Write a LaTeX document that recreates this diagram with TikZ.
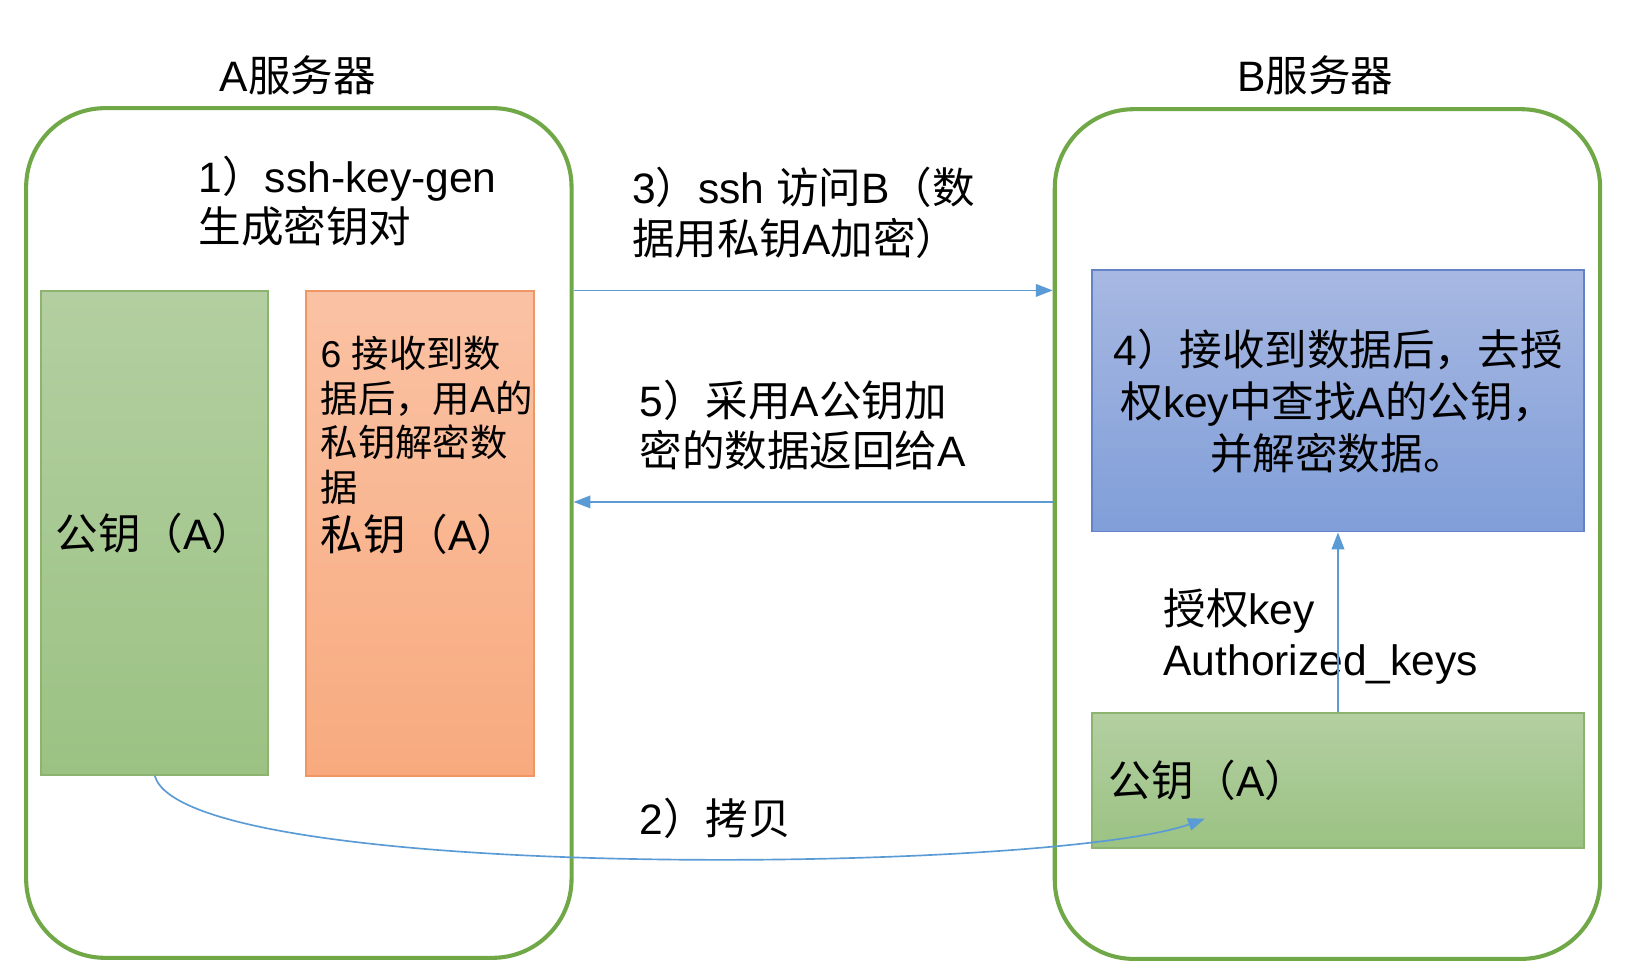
\documentclass[tikz,border=0pt]{standalone}
\usepackage{fontspec}
\setmainfont{Liberation Sans}
\newfontfamily\cjk{Noto Sans CJK SC}
\usetikzlibrary{arrows.meta}

\definecolor{srvgreen}{RGB}{112,168,72}
\definecolor{keytop}{RGB}{179,207,161}
\definecolor{keybot}{RGB}{155,194,131}
\definecolor{keyline}{RGB}{140,180,112}
\definecolor{privtop}{RGB}{250,194,164}
\definecolor{privbot}{RGB}{248,170,126}
\definecolor{privline}{RGB}{240,150,100}
\definecolor{recvtop}{RGB}{167,184,226}
\definecolor{recvbot}{RGB}{128,158,216}
\definecolor{recvline}{RGB}{100,130,200}
\definecolor{arrblue}{RGB}{91,155,213}

\newcommand{\bigtxt}{\fontsize{11.5pt}{13.7pt}\selectfont}
\newcommand{\smalltxt}{\fontsize{10.1pt}{12pt}\selectfont}
\newcommand{\recvtxt}{\fontsize{11.5pt}{14pt}\selectfont}

\tikzset{
  server/.style={draw=srvgreen, line width=1.1pt, rounded corners=0.75cm,
    minimum width=5.18cm, minimum height=8.07cm},
  pubbox/.style={draw=keyline, line width=0.5pt, top color=keytop, bottom color=keybot},
  privbox/.style={draw=privline, line width=0.5pt, top color=privtop, bottom color=privbot},
  recvbox/.style={draw=recvline, line width=0.5pt, top color=recvtop, bottom color=recvbot},
  lbl/.style={anchor=west, align=left, inner sep=0pt, font=\bigtxt},
  arr/.style={draw=arrblue, line width=0.45pt, -{Triangle[length=0.16cm, width=0.12cm]}}
}

\begin{document}
\begin{tikzpicture}[x=0.01cm, y=-0.01cm]
\useasboundingbox (0,0) rectangle (1568,924);

% the two servers
\node[server] (srvA) at (284,506.5) {};
\node[server] (srvB) at (1261.5,507.5) {};
\node[lbl, anchor=center] (titleA) at (283,72) {A{\cjk 服务器}};
\node[lbl, anchor=center] (titleB) at (1250,72) {B{\cjk 服务器}};

% keys on A
\node[pubbox, minimum width=2.16cm, minimum height=4.59cm] (pubA) at (147,506.5) {};
\node[privbox, minimum width=2.16cm, minimum height=4.6cm] (privA) at (399,507) {};
\node[lbl] (pubAtxt) at (52,507) {{\cjk 公钥（}A{\cjk ）}};
\node[lbl, font=\smalltxt] (decA) at (304,399.5)
  {6 {\cjk 接收到数}\\{\cjk 据后，用}A{\cjk 的}\\{\cjk 私钥解密数}\\{\cjk 据}};
\node[lbl] (privAtxt) at (304,508) {{\cjk 私钥（}A{\cjk ）}};
\node[lbl] (step1) at (188,191) {1{\cjk ）}ssh-key-gen\\{\cjk 生成密钥对}};

% boxes on B
\node[recvbox, minimum width=4.67cm, minimum height=2.48cm, align=center,
  inner sep=0pt, font=\recvtxt] (recv) at (1271.5,381)
  {4{\cjk ）接收到数据后，去授}\\{\cjk 权}key{\cjk 中查找}A{\cjk 的公钥，}\\{\cjk 并解密数据。}};
\node[pubbox, minimum width=4.67cm, minimum height=1.28cm] (pubB) at (1271.5,742) {};
\node[lbl] (pubBtxt) at (1053,742) {{\cjk 公钥（}A{\cjk ）}};
\node[lbl] (authk) at (1105,605) {{\cjk 授权}key\\Authorized\_keys};

% messages
\node[lbl] (step3) at (600,202) {3{\cjk ）}ssh {\cjk 访问}B{\cjk （数}\\{\cjk 据用私钥}A{\cjk 加密）}};
\node[lbl] (step5) at (607,404) {5{\cjk ）采用}A{\cjk 公钥加}\\{\cjk 密的数据返回给}A};
\node[lbl] (step2) at (607,778) {2{\cjk ）拷贝}};

\draw[arr] (srvA.east |- 0,276) -- (srvB.west |- 0,276);
\draw[arr] (srvB.west |- 0,477) -- (srvA.east |- 0,477);
\draw[arr] (pubB.north) -- (recv.south);
\coordinate (copyEnd) at (1145,778);
\draw[arr] (pubA.south) .. controls (175,840) and (1000,830) .. (copyEnd);

\end{tikzpicture}
\end{document}
